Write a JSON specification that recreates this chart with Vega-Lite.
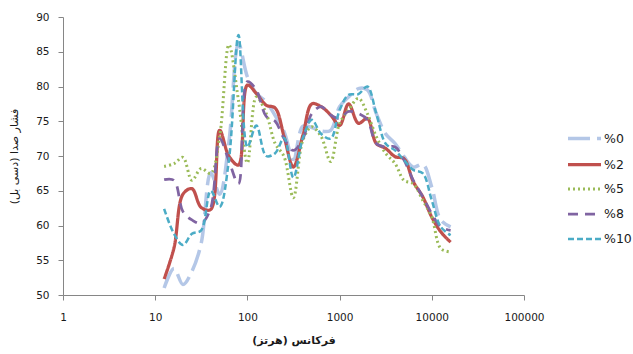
{
  "$schema": "https://vega.github.io/schema/vega-lite/v6.json",
  "width": 461,
  "height": 278,
  "autosize": {"type": "none"},
  "padding": {"left": 63, "top": 17, "right": 109, "bottom": 59},
  "background": "white",
  "config": {
    "view": {"stroke": null},
    "font": "DejaVu Sans",
    "axis": {"grid": false, "domainColor": "#868686", "tickColor": "#868686", "labelColor": "#1a1a1a", "labelFont": "DejaVu Sans", "labelFontSize": 10.5, "titleFont": "DejaVu Sans", "titleColor": "#1a1a1a", "titleFontSize": 11, "tickSize": 5},
    "legend": {"labelFont": "DejaVu Sans", "labelFontSize": 12.5, "labelColor": "#1a1a1a"}
  },
  "data": {"values": [
    {"f":12.5,"s":"%0","v":51.0},{"f":16,"s":"%0","v":53.8},{"f":20,"s":"%0","v":51.5},{"f":25,"s":"%0","v":53.4},{"f":31.5,"s":"%0","v":57.4},{"f":40,"s":"%0","v":67.6},{"f":50,"s":"%0","v":64.5},{"f":63,"s":"%0","v":72.0},{"f":80,"s":"%0","v":86.2},{"f":100,"s":"%0","v":81.4},{"f":125,"s":"%0","v":79.0},{"f":160,"s":"%0","v":77.8},{"f":200,"s":"%0","v":75.8},{"f":250,"s":"%0","v":73.5},{"f":315,"s":"%0","v":69.5},{"f":400,"s":"%0","v":74.3},{"f":500,"s":"%0","v":74.1},{"f":630,"s":"%0","v":73.6},{"f":800,"s":"%0","v":73.7},{"f":1000,"s":"%0","v":77.1},{"f":1250,"s":"%0","v":78.5},{"f":1600,"s":"%0","v":79.7},{"f":2000,"s":"%0","v":79.5},{"f":2500,"s":"%0","v":76.1},{"f":3150,"s":"%0","v":73.2},{"f":4000,"s":"%0","v":71.8},{"f":5000,"s":"%0","v":69.9},{"f":6300,"s":"%0","v":68.4},{"f":8000,"s":"%0","v":68.8},{"f":10000,"s":"%0","v":65.5},{"f":12500,"s":"%0","v":60.8},{"f":16000,"s":"%0","v":59.8},
    {"f":12.5,"s":"%2","v":52.3},{"f":16,"s":"%2","v":56.8},{"f":20,"s":"%2","v":64.5},{"f":25,"s":"%2","v":65.3},{"f":31.5,"s":"%2","v":62.6},{"f":40,"s":"%2","v":62.3},{"f":50,"s":"%2","v":73.7},{"f":63,"s":"%2","v":70.0},{"f":80,"s":"%2","v":68.7},{"f":100,"s":"%2","v":80.2},{"f":125,"s":"%2","v":79.0},{"f":160,"s":"%2","v":77.3},{"f":200,"s":"%2","v":76.9},{"f":250,"s":"%2","v":72.8},{"f":315,"s":"%2","v":68.4},{"f":400,"s":"%2","v":73.0},{"f":500,"s":"%2","v":77.5},{"f":630,"s":"%2","v":77.1},{"f":800,"s":"%2","v":75.9},{"f":1000,"s":"%2","v":74.4},{"f":1250,"s":"%2","v":77.5},{"f":1600,"s":"%2","v":74.7},{"f":2000,"s":"%2","v":75.4},{"f":2500,"s":"%2","v":71.8},{"f":3150,"s":"%2","v":71.1},{"f":4000,"s":"%2","v":69.9},{"f":5000,"s":"%2","v":69.6},{"f":6300,"s":"%2","v":66.3},{"f":8000,"s":"%2","v":64.1},{"f":10000,"s":"%2","v":61.2},{"f":12500,"s":"%2","v":59.1},{"f":16000,"s":"%2","v":57.6},
    {"f":12.5,"s":"%5","v":68.5},{"f":16,"s":"%5","v":68.9},{"f":20,"s":"%5","v":69.8},{"f":25,"s":"%5","v":66.5},{"f":31.5,"s":"%5","v":68.2},{"f":40,"s":"%5","v":67.5},{"f":50,"s":"%5","v":72.8},{"f":63,"s":"%5","v":86.0},{"f":80,"s":"%5","v":78.0},{"f":100,"s":"%5","v":69.0},{"f":125,"s":"%5","v":78.5},{"f":160,"s":"%5","v":76.1},{"f":200,"s":"%5","v":71.8},{"f":250,"s":"%5","v":69.9},{"f":315,"s":"%5","v":64.0},{"f":400,"s":"%5","v":72.3},{"f":500,"s":"%5","v":74.2},{"f":630,"s":"%5","v":72.8},{"f":800,"s":"%5","v":69.2},{"f":1000,"s":"%5","v":74.7},{"f":1250,"s":"%5","v":76.6},{"f":1600,"s":"%5","v":78.3},{"f":2000,"s":"%5","v":76.1},{"f":2500,"s":"%5","v":72.8},{"f":3150,"s":"%5","v":70.4},{"f":4000,"s":"%5","v":68.9},{"f":5000,"s":"%5","v":66.5},{"f":6300,"s":"%5","v":66.0},{"f":8000,"s":"%5","v":63.6},{"f":10000,"s":"%5","v":61.2},{"f":12500,"s":"%5","v":56.7},{"f":16000,"s":"%5","v":56.2},
    {"f":12.5,"s":"%8","v":66.6},{"f":16,"s":"%8","v":66.5},{"f":20,"s":"%8","v":62.0},{"f":25,"s":"%8","v":60.8},{"f":31.5,"s":"%8","v":60.3},{"f":40,"s":"%8","v":62.5},{"f":50,"s":"%8","v":72.5},{"f":63,"s":"%8","v":69.3},{"f":80,"s":"%8","v":66.0},{"f":100,"s":"%8","v":80.7},{"f":125,"s":"%8","v":79.5},{"f":160,"s":"%8","v":75.7},{"f":200,"s":"%8","v":75.0},{"f":250,"s":"%8","v":72.5},{"f":315,"s":"%8","v":70.8},{"f":400,"s":"%8","v":72.5},{"f":500,"s":"%8","v":76.1},{"f":630,"s":"%8","v":77.1},{"f":800,"s":"%8","v":75.9},{"f":1000,"s":"%8","v":75.4},{"f":1250,"s":"%8","v":76.4},{"f":1600,"s":"%8","v":76.1},{"f":2000,"s":"%8","v":75.2},{"f":2500,"s":"%8","v":71.8},{"f":3150,"s":"%8","v":71.3},{"f":4000,"s":"%8","v":71.3},{"f":5000,"s":"%8","v":69.4},{"f":6300,"s":"%8","v":66.5},{"f":8000,"s":"%8","v":64.1},{"f":10000,"s":"%8","v":61.7},{"f":12500,"s":"%8","v":59.8},{"f":16000,"s":"%8","v":59.3},
    {"f":12.5,"s":"%10","v":62.4},{"f":16,"s":"%10","v":58.8},{"f":20,"s":"%10","v":57.2},{"f":25,"s":"%10","v":58.8},{"f":31.5,"s":"%10","v":59.3},{"f":40,"s":"%10","v":65.0},{"f":50,"s":"%10","v":62.7},{"f":63,"s":"%10","v":69.4},{"f":80,"s":"%10","v":87.4},{"f":100,"s":"%10","v":71.3},{"f":125,"s":"%10","v":74.4},{"f":160,"s":"%10","v":70.0},{"f":200,"s":"%10","v":70.4},{"f":250,"s":"%10","v":72.6},{"f":315,"s":"%10","v":66.9},{"f":400,"s":"%10","v":72.6},{"f":500,"s":"%10","v":75.2},{"f":630,"s":"%10","v":73.2},{"f":800,"s":"%10","v":72.5},{"f":1000,"s":"%10","v":76.6},{"f":1250,"s":"%10","v":78.8},{"f":1600,"s":"%10","v":78.9},{"f":2000,"s":"%10","v":80.0},{"f":2500,"s":"%10","v":76.1},{"f":3150,"s":"%10","v":71.8},{"f":4000,"s":"%10","v":70.8},{"f":5000,"s":"%10","v":69.4},{"f":6300,"s":"%10","v":68.0},{"f":8000,"s":"%10","v":67.5},{"f":10000,"s":"%10","v":63.6},{"f":12500,"s":"%10","v":59.8},{"f":16000,"s":"%10","v":58.6}
  ]},
  "mark": {"type": "line", "interpolate": "catmull-rom", "strokeCap": "butt"},
  "encoding": {
    "x": {"field": "f", "type": "quantitative",
      "scale": {"type": "log", "domain": [1, 100000], "nice": false},
      "axis": {"values": [1, 10, 100, 1000, 10000, 100000], "format": "d", "labelPadding": 12, "title": "فرکانس (هرتز)", "titleFontWeight": "bold", "titlePadding": 12, "labelFlush": false}},
    "y": {"field": "v", "type": "quantitative",
      "scale": {"domain": [50, 90], "nice": false, "zero": false},
      "axis": {"values": [50, 55, 60, 65, 70, 75, 80, 85, 90], "labelPadding": 9, "title": "فشار صدا (دسی بل)", "titleFontWeight": "normal", "titlePadding": 16}},
    "color": {"field": "s", "type": "nominal",
      "scale": {"domain": ["%0", "%2", "%5", "%8", "%10"], "range": ["#b4c7e7", "#c0504d", "#9bbb59", "#8064a2", "#4bacc6"]},
      "legend": {"title": null, "orient": "none", "legendX": 503, "legendY": 103, "symbolType": "stroke", "symbolSize": 1089, "symbolStrokeWidth": 3, "labelOffset": 1, "rowPadding": -1}},
    "strokeDash": {"field": "s", "type": "nominal",
      "scale": {"domain": ["%0", "%2", "%5", "%8", "%10"], "range": [[22, 7], [1, 0], [2, 3], [10, 7], [6, 3]]}},
    "strokeWidth": {"field": "s", "type": "ordinal", "legend": null,
      "scale": {"domain": ["%0", "%2", "%5", "%8", "%10"], "range": [3.5, 2.5, 2.5, 3, 2.75]}}
  }
}
